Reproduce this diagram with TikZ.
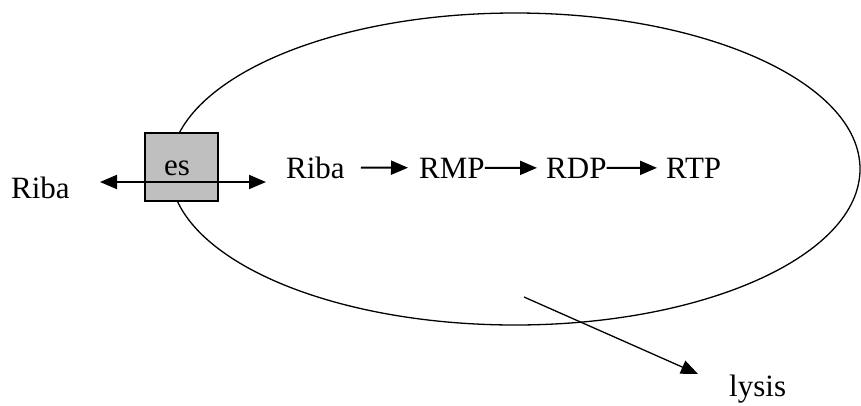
\documentclass[tikz,border=0pt]{standalone}
\usepackage{fontspec}
\setmainfont{Liberation Serif}
\usepackage{tikz}
\usetikzlibrary{
    arrows.meta,
    calc,
    positioning
}
\tikzset{
    lbl/.style={inner sep=0pt, anchor=base west, font=\fontsize{31}{37}\selectfont},
    arr/.style={line width=2pt, -{Triangle[length=17pt, width=14pt]}},
    darr/.style={line width=2pt, {Triangle[length=17pt, width=14pt]}-{Triangle[length=17pt, width=14pt]}}
}

\begin{document}
\begin{tikzpicture}[x=1pt, y=-1pt]
    \useasboundingbox (0, 0) rectangle (861, 405);
    % cell
    \draw[line width=1.3pt] (515, 169) ellipse [x radius=345, y radius=156];

    % transporter
    \node[draw, line width=2pt, fill=black!25, minimum width=73pt, minimum height=68pt,
        inner sep=0pt] (es) at (181.5, 167) {};
    \node[lbl] (estext) at (164, 175) {es};

    \node[lbl] (ribaout) at (11, 198) {Riba};
    \coordinate (chL) at (100, 182);
    \coordinate (chR) at (266, 182);
    \draw[darr] (chL) -- (chR);

    % pathway
    \node[lbl] (ribain) at (286, 178) {Riba};
    \node[lbl] (rmp) at (419, 178) {RMP};
    \node[lbl] (rdp) at (546, 178) {RDP};
    \node[lbl] (rtp) at (666, 178) {RTP};

    \draw[arr, shorten <=16pt, shorten >=11pt] (ribain) -- (rmp);
    \draw[arr, shorten >=9pt] (rmp) -- (rdp);
    \draw[arr, shorten >=9pt] (rdp) -- (rtp);

    % lysis
    \node[lbl] (lysis) at (729, 396) {lysis};
    \coordinate (lysA) at (524, 297);
    \coordinate (lysB) at (698, 374);
    \draw[line width=1.3pt, -{Triangle[length=17pt, width=14pt]}] (lysA) -- (lysB);
\end{tikzpicture}
\end{document}
